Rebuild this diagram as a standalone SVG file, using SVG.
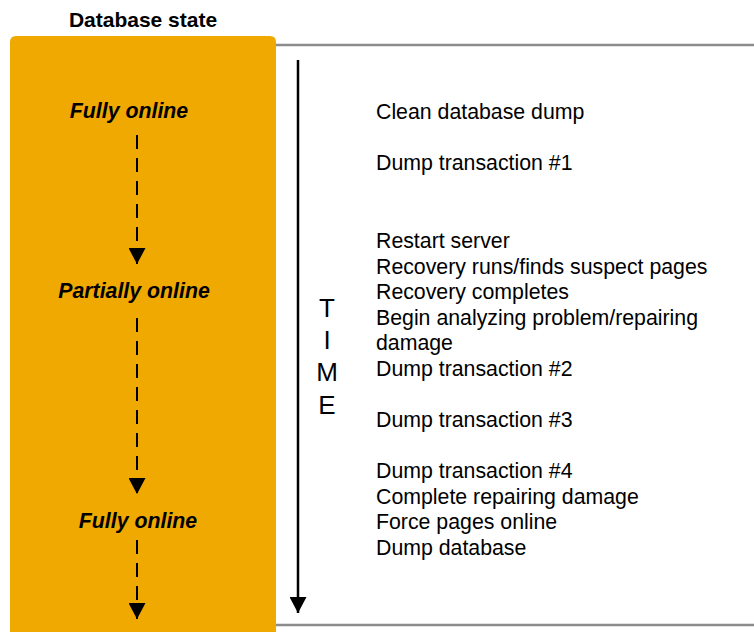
<svg xmlns="http://www.w3.org/2000/svg" width="754" height="632" viewBox="0 0 754 632">
<style>
.t{font-family:"Liberation Sans",Arial,sans-serif;font-size:21.3px;fill:#000}
.s{font-family:"Liberation Sans",Arial,sans-serif;font-size:21.3px;font-weight:bold;font-style:italic;fill:#000;text-anchor:middle}
.h{font-family:"Liberation Sans",Arial,sans-serif;font-size:21px;font-weight:bold;fill:#000;text-anchor:middle}
.tm{font-family:"Liberation Sans",Arial,sans-serif;font-size:26px;fill:#000;text-anchor:middle}
.d{stroke:#000;stroke-width:2;stroke-dasharray:14 9;fill:none}
</style>
<defs>
<marker id="ah" markerWidth="16" markerHeight="17" refX="16" refY="8.5" orient="auto" markerUnits="userSpaceOnUse" viewBox="0 0 16 17">
<path d="M0 0 L16 8.5 L0 17 Z" fill="#000"/>
</marker>
</defs>
<rect width="754" height="632" fill="#fff"/>
<g id="frame">
<line x1="276" y1="45" x2="754" y2="45" stroke="#8c8c8c" stroke-width="2.5"/>
<line x1="276" y1="625" x2="754" y2="625" stroke="#8c8c8c" stroke-width="2.5"/>
</g>
<g id="state-column">
<path d="M10 42 Q10 36 16 36 L270 36 Q276 36 276 42 L276 632 L10 632 Z" fill="#F0A900"/>
<text class="h" x="143" y="27">Database state</text>
</g>
<g id="state-fully-online-1"><text class="s" x="129" y="118">Fully online</text></g>
<g id="state-partially-online"><text class="s" x="134" y="298">Partially online</text></g>
<g id="state-fully-online-2"><text class="s" x="138" y="528">Fully online</text></g>
<g id="time-axis">
<text class="tm" x="327" y="317">T</text>
<text class="tm" x="327" y="349">I</text>
<text class="tm" x="327" y="381">M</text>
<text class="tm" x="327" y="414">E</text>
</g>
<g id="events">
<text class="t" x="376" y="119">Clean database dump</text>
<text class="t" x="376" y="170">Dump transaction #1</text>
<text class="t" x="376" y="248">Restart server</text>
<text class="t" x="376" y="274">Recovery runs/finds suspect pages</text>
<text class="t" x="376" y="299">Recovery completes</text>
<text class="t" x="376" y="325">Begin analyzing problem/repairing</text>
<text class="t" x="376" y="350">damage</text>
<text class="t" x="376" y="376">Dump transaction #2</text>
<text class="t" x="376" y="427">Dump transaction #3</text>
<text class="t" x="376" y="478">Dump transaction #4</text>
<text class="t" x="376" y="504">Complete repairing damage</text>
<text class="t" x="376" y="529">Force pages online</text>
<text class="t" x="376" y="555">Dump database</text>
</g>
<g id="connectors">
<line class="d" x1="137" y1="135" x2="137" y2="264" marker-end="url(#ah)"/>
<line class="d" x1="137" y1="318" x2="137" y2="494" marker-end="url(#ah)"/>
<line class="d" x1="137" y1="540" x2="137" y2="619" marker-end="url(#ah)"/>
<line x1="298" y1="60" x2="298" y2="613" stroke="#000" stroke-width="2.5" marker-end="url(#ah)"/>
</g>
</svg>
